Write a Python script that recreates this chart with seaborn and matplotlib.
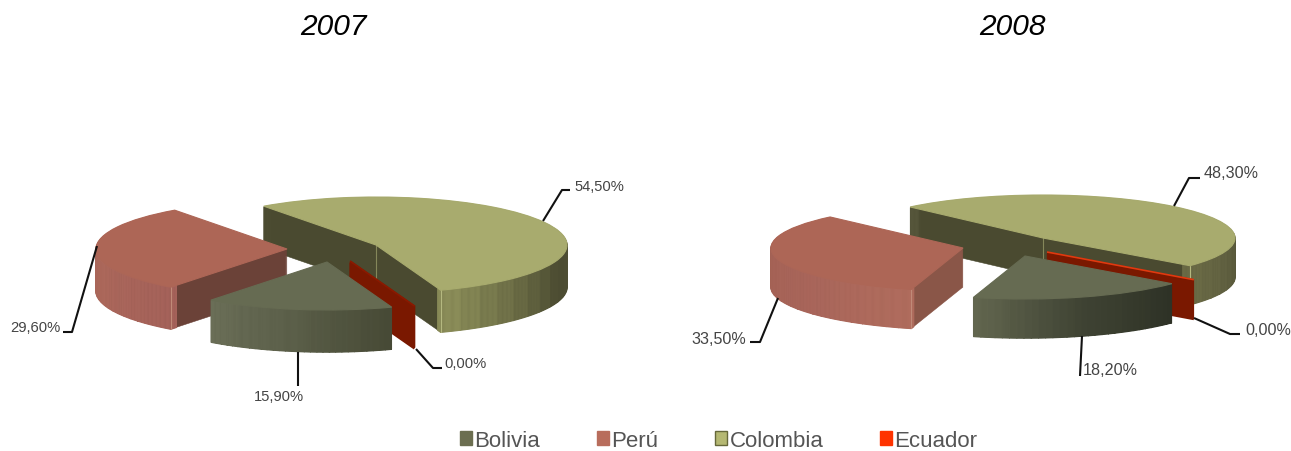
import numpy as np
import matplotlib
matplotlib.use("Agg")
import matplotlib.pyplot as plt
import seaborn as sns
from matplotlib.colors import LinearSegmentedColormap
from matplotlib.patches import Patch

# ---- data -------------------------------------------------------------
countries = ["Colombia", "Ecuador", "Bolivia", "Perú"]
legend_order = ["Bolivia", "Perú", "Colombia", "Ecuador"]
years = ["2007", "2008"]
values_2007 = [54.5, 0.0, 15.9, 29.6]
values_2008 = [48.3, 0.0, 18.2, 33.5]

# ---- styling / layout --------------------------------------------------
W, H = 1291, 452
sns.set_theme(style="white")
plt.rcParams["font.family"] = ["Liberation Sans", "DejaVu Sans"]

top_colors = {"Colombia": "#A8AB6E", "Bolivia": "#666B52", "Perú": "#AD6656"}
legend_colors = {"Bolivia": "#6B6E50", "Perú": "#B86D5C", "Colombia": "#B5B872", "Ecuador": "#FF3300"}
legend_edges = {"Bolivia": "#6B6E50", "Perú": "#B86D5C", "Colombia": "#66683A", "Ecuador": "#FF3300"}
draw_order = ["Colombia", "Ecuador", "Perú", "Bolivia"]

layouts = [
    dict(year="2007", values=values_2007, a=191, b=48, depth=42, start=126.0, apex=(376, 246),
         offsets={"Colombia": (0, 0), "Ecuador": (-26, 16), "Bolivia": (-49, 17), "Perú": (-89, 4)},
         radial={"Colombia": "#4A4A30", "Ecuador": "#7A1800", "Bolivia": "#4A4D38", "Perú": "#6B4238"},
         ramps={"Colombia": ["#4C4C32", "#4C4C32", "#55553A", "#4C4C32", "#8A8C58"],
                "Ecuador": ["#7A1800", "#7A1800"],
                "Bolivia": ["#474A36", "#5A5E48", "#6A6E57"],
                "Perú": ["#A5625A", "#AC685B", "#AA6658", "#A5625A"]},
         ecuador_top="#8A1A00",
         title=(333, 27), fs=10.6,
         leaders={"Colombia": [(543, 222), (562, 191), (570, 191)],
                  "Ecuador": [(416, 350), (433, 369), (442, 369)],
                  "Bolivia": [(298, 353), (298, 387)],
                  "Perú": [(97, 247), (72, 333), (63, 333)]},
         labels={"Colombia": (574, 187), "Ecuador": (444, 364), "Bolivia": (254, 397), "Perú": (10, 328)}),
    dict(year="2008", values=values_2008, a=192, b=43, depth=39, start=133.8, apex=(1043, 239),
         offsets={"Colombia": (0, 0), "Ecuador": (4, 14), "Bolivia": (-18, 18), "Perú": (-80, 10)},
         radial={"Colombia": "#4A4A30", "Ecuador": "#7A1800", "Bolivia": "#4A4D38", "Perú": "#8A5648"},
         ramps={"Colombia": ["#55553A", "#55553A", "#55553A", "#55553A", "#6A6A45"],
                "Ecuador": ["#7A1800", "#7A1800"],
                "Bolivia": ["#2E3226", "#3F4333", "#62664F"],
                "Perú": ["#B06C5D", "#A8655A", "#A56255", "#A05F50"]},
         ecuador_top="#E03A10",
         title=(1012, 27), fs=11.6,
         leaders={"Colombia": [(1174, 207), (1189, 179), (1200, 179)],
                  "Ecuador": [(1194, 319), (1230, 335), (1240, 335)],
                  "Bolivia": [(1082, 337), (1080, 377)],
                  "Perú": [(778, 299), (760, 343), (750, 343)]},
         labels={"Colombia": (1204, 174), "Ecuador": (1245, 331), "Bolivia": (1083, 371), "Perú": (691, 340)}),
]

N_SUB = 30
fig = plt.figure(figsize=(W / 100, H / 100), dpi=100, facecolor="white")


def draw_slice(ax, frac, start, center, zbase, cfg, name):
    """One extruded pie slice, built from stacked ax.pie layers."""
    b = cfg["b"]
    depth_u = cfg["depth"] / b
    ramp = LinearSegmentedColormap.from_list(name, cfg["ramps"][name])
    for k in range(cfg["depth"], 0, -1):
        c = (center[0], center[1] - k / b)
        z = zbase + (cfg["depth"] - k) * 0.01
        edge = cfg["radial"][name]
        ax.pie([frac], normalize=False, startangle=start, counterclock=False, center=c,
               colors=[edge], labeldistance=None,
               wedgeprops=dict(edgecolor=edge, linewidth=2.2 if frac == 0 else 0.4, zorder=z))
        if frac > 0:
            shades = [ramp(i / (N_SUB - 1)) for i in range(N_SUB)]
            ring = ax.pie([frac / N_SUB] * N_SUB, normalize=False, startangle=start, counterclock=False,
                          center=c, colors=shades, labeldistance=None,
                          wedgeprops=dict(width=0.05, linewidth=1.1, zorder=z + 0.001))
            for wedge, shade in zip(ring[0], shades):
                wedge.set_edgecolor(shade)
    top = top_colors.get(name, cfg["ecuador_top"])
    ax.pie([frac], normalize=False, startangle=start, counterclock=False, center=center,
           colors=[top], labeldistance=None,
           wedgeprops=dict(edgecolor=top, linewidth=0.8 if frac > 0 else 1.2, zorder=zbase + 0.9))

    # pale creases where side faces meet
    end = np.radians(start - frac * 360)
    begin = np.radians(start)
    creases = []
    if name == "Colombia":
        creases = [(center[0], center[1], "#85875A"),
                   (center[0] + np.cos(end), center[1] + np.sin(end), "#B5B880")]
    elif name == "Perú":
        creases = [(center[0] + np.cos(begin), center[1] + np.sin(begin), "#C08A78")]
    for x, y, col in creases:
        ax.plot([x, x], [y, y - depth_u], color=col, lw=0.8, zorder=zbase + 0.8)


overlay = fig.add_axes([0, 0, 1, 1], zorder=10)
overlay.set_xlim(0, W)
overlay.set_ylim(H, 0)
overlay.axis("off")

for cfg in layouts:
    ax = fig.add_axes([0, 0, 1, 1])
    ax.patch.set_alpha(0)
    a, b = cfg["a"], cfg["b"]
    cx, cy = cfg["apex"]
    angle = cfg["start"]
    starts = {}
    for name, v in zip(countries, cfg["values"]):
        starts[name] = (angle, v / 100)
        angle -= v / 100 * 360
    for i, name in enumerate(draw_order):
        st, frac = starts[name]
        dx, dy = cfg["offsets"][name]
        draw_slice(ax, frac, st, (dx / a, -dy / b), i + 1, cfg, name)
    ax.set_aspect("auto")
    ax.set_xlim(-cx / a, (W - cx) / a)
    ax.set_ylim(-(H - cy) / b, cy / b)
    ax.axis("off")

    overlay.text(*cfg["title"], cfg["year"], ha="center", va="center", fontsize=21.5,
                 style="italic", color="black")
    for name, v in zip(countries, cfg["values"]):
        xs, ys = zip(*cfg["leaders"][name])
        overlay.plot(xs, ys, color="#111111", lw=1.5, solid_capstyle="butt")
        overlay.text(*cfg["labels"][name], f"{v:.2f}".replace(".", ",") + "%", ha="left", va="center",
                     fontsize=cfg["fs"], color="#444444")

handles = [Patch(facecolor=legend_colors[n], edgecolor=legend_edges[n], linewidth=1) for n in legend_order]
fig.legend(handles, legend_order, loc="lower left", bbox_to_anchor=(460 / W, 0.0), ncol=4, frameon=False,
           fontsize=16, handlelength=0.55, handleheight=0.55, handletextpad=0.1, columnspacing=2.55,
           borderpad=0, borderaxespad=0, labelcolor="#555555")

fig.savefig("out.png", dpi=100, facecolor="white")
